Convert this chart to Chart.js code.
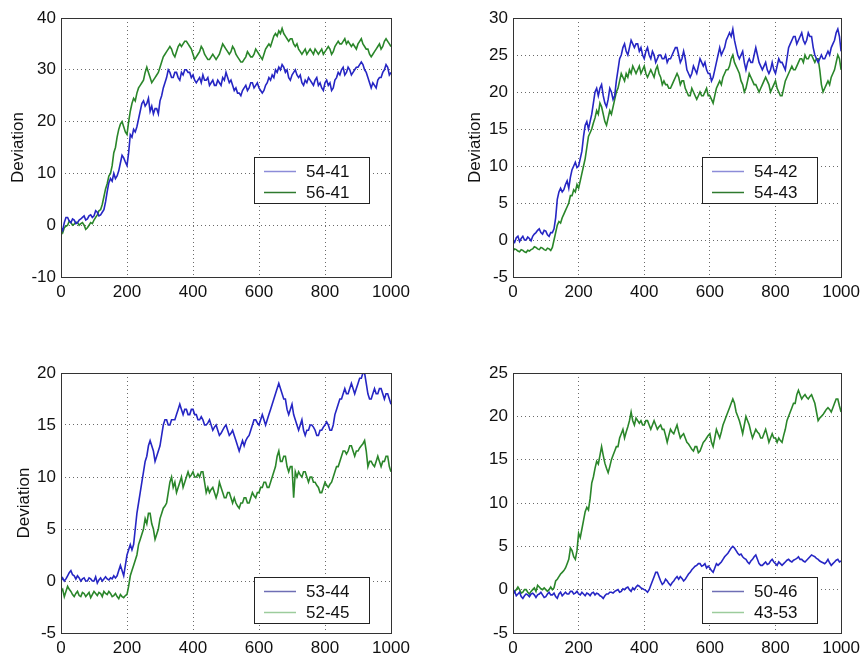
<!DOCTYPE html>
<html>
<head>
<meta charset="utf-8">
<script src="https://cdn.jsdelivr.net/npm/chart.js@4.4.1/dist/chart.umd.min.js"></script>
<style>
  html, body { margin: 0; padding: 0; background: #fff; }
  body { width: 865px; height: 657px; position: relative; overflow: hidden; }
  canvas { position: absolute; }
</style>
</head>
<body>
<canvas id="c1" width="432" height="320" style="left:0;top:0"></canvas>
<canvas id="c2" width="433" height="320" style="left:432px;top:0"></canvas>
<canvas id="c3" width="432" height="337" style="left:0;top:320px"></canvas>
<canvas id="c4" width="433" height="337" style="left:432px;top:320px"></canvas>
<script>
// sample positions (x axis)
const steps = [
  0,5,10,15,20,25,30,35,40,45,50,55,60,65,70,75,80,85,90,95,
  100,105,110,115,120,125,130,135,140,145,150,155,160,165,170,175,180,185,190,195,
  200,205,210,215,220,225,230,235,240,245,250,255,260,265,270,275,280,285,290,295,
  300,305,310,315,320,325,330,335,340,345,350,355,360,365,370,375,380,385,390,395,
  400,405,410,415,420,425,430,435,440,445,450,455,460,465,470,475,480,485,490,495,
  500,505,510,515,520,525,530,535,540,545,550,555,560,565,570,575,580,585,590,595,
  600,605,610,615,620,625,630,635,640,645,650,655,660,665,670,675,680,685,690,695,
  700,705,710,715,720,725,730,735,740,745,750,755,760,765,770,775,780,785,790,795,
  800,805,810,815,820,825,830,835,840,845,850,855,860,865,870,875,880,885,890,895,
  900,905,910,915,920,925,930,935,940,945,950,955,960,965,970,975,980,985,990,995,
  1000];
const xTicks = [0, 200, 400, 600, 800, 1000];

// Panel 1 (top left)
const s54_41 = [
  -0.5,-1,0.5,1.5,1.5,0.8,0.5,1.2,1,0.3,0.5,1,1.2,1.5,1.8,1,1.2,1.8,2,1.5,
  1.8,2.8,2.5,1.8,2,2.5,3,4.5,6.5,8.2,9,8.5,10,9,9.5,10.5,12,13.5,13,12.2,
  11.5,14,17.5,17,18.5,18,19,20.5,22,23.5,24,23,23.5,24.5,22,23,21.5,22.5,22.5,21.5,
  24,25,26.5,27.5,28.5,30,29.5,28.5,28.5,29.5,29.5,28.5,28,29.5,29,30,30,29.5,29.5,28.5,
  29,28,27.5,28,28.5,27.5,29,28,28,28.5,27,27.5,28,27,27,28,27.5,27,28.5,28,
  29.5,28.5,27.5,28,27,26,26.5,25.5,25.5,25,26,26.5,27,26,26.5,27.5,27.5,26.5,27,27.5,
  26.5,26,25.5,26,27,27.5,28.5,28,29,28.5,30,29.5,30.5,30,31,30.5,29.5,30,28.5,28,
  29,29.5,30,29,28.5,29,27.5,27,28,27.5,28.5,28,27.5,27,28,28.5,27,27.5,26.5,26,
  27.5,28,27,27.5,26,26.5,28,28.5,29.5,29,30,30.5,29,29.5,30.5,30,29,29.5,30,30.5,
  30.5,31,31.5,31,30,29.5,28.5,27.5,26.5,27.5,27,26.5,28,28.5,28.5,29.5,30,31,30.5,29,
  29.5];
const s56_41 = [
  -1,-1.5,-0.5,-0.2,0,0.8,0.5,0,0.2,0.6,0.5,0,0.3,0.5,0,-0.8,-0.5,0,0.5,0.3,
  1,1.5,2,2.8,3,4,5.5,7,8,9.5,10,11.5,14,15,17,18.5,19.5,20,19,18,
  17.5,20,22,23.5,24.5,24,25.5,26.5,27,27.5,28,29.5,30.5,29.5,28.5,27.5,28,28.5,29,29.5,
  30.5,31.5,32.5,33,33.5,34,34.5,34,33,32.5,33.5,34.5,35,34.5,35,35.5,35.5,35,34.5,34,
  33,32,32.5,33,33.5,34.5,34,33,32.5,32,32,32.5,33,32.5,32,32.5,33,34,35,34.5,
  34,33.5,33,33.5,34.5,34,33,32.5,32,31.5,31.5,32,32.5,33.5,33,32.5,32.5,33,34,33.5,
  33,32.5,32,33,34,34.5,35,34.5,35.5,36.5,37,36.5,37.5,37,38,37,36.5,36,35.5,36,
  36,35,34.5,35,34,33.5,33,33.5,34,33,33.5,34,33.5,33,34,33.5,33,33.5,34,33,
  33.5,34,34.5,34,33,33.5,34.5,35,35.5,35,35,35.5,36,35,35.5,35,34.5,35,34.5,34,
  35,35.5,36,35,34.5,34,34,33,32.5,33,33.5,34,34.5,35,34,34.5,35.5,36,35.5,35,
  34.5];

// Panel 2 (top right)
const s54_42 = [
  0,-0.3,0.3,0.5,-0.2,0.2,0.5,0,0,0.4,0.2,-0.1,0.5,0.8,1,1.3,1.5,1,0.8,1.3,
  1.2,0.7,0.5,1,1,1.5,3,5.5,6.5,7,6.5,6.8,7.5,8,7,8.5,9.5,10,10.5,9.8,
  10,11,12,14,15.5,16,15,16,17,18.5,20,20.5,19.5,20.5,21,19.5,18.5,18,19,20.5,
  20,19,19.5,21.5,23,24.5,25,26,26.5,25.5,25,26,27,26.5,26,26.5,26.5,25.5,26,25,
  24.5,25.5,26,25,24.5,25.5,25,24,24.5,25,25,24.5,24.5,25,24,24.5,24.5,25,25.5,26,
  26,25,24,24.5,25.5,24.5,23,22.5,22,22.5,23.5,23,22.5,23.5,24.5,24,23.5,24,23,22.5,
  22.5,21.5,22,23,24,25,26,25,25.5,26,27,27.5,28,27.5,28.5,27,26,25,24.5,25,
  25.5,24,23,24,24.5,24,24,25,26,25,24,23.5,23,23.5,24,23,22.5,23,24,23,
  22.5,23.5,24.5,24,24,23.5,23,24.5,26,26.5,27,27.5,27.5,26.5,27,27.5,28,27,26.5,27,
  28,27.5,27.5,26,25,24.5,24,24.5,25,24.5,24.5,25,25.5,25,26,26.5,27,28,28.5,27.5,
  25.5];
const s54_43 = [
  -1.5,-1.2,-1.3,-1.5,-1.6,-1.3,-1.4,-1.6,-1.7,-1.4,-1.5,-1.3,-1.2,-0.9,-1,-1.2,-1.3,-1,-1.1,-1.3,
  -1.4,-1.1,-1.2,-1.4,-1,0,1,2,2.5,2.3,3,3.5,4,4.5,5,6,6,6.8,6.5,7.5,
  7,8,9,10,11,12.5,14,14.5,15,15.8,16.5,17.5,17,18.5,18,17,16,15.5,16.5,17.5,
  17,18,19,20,20.5,21.5,22.5,22,21.5,22.5,22,23,22.5,23.5,23,22.5,23,23.5,22.5,23,
  23.5,22.5,22,22.5,23,22.5,22,23,23.5,22.5,22,21,21.5,21,21,20.5,20.5,21,21.5,22,
  22.5,22,21,21.5,21.5,20.5,20,19.5,19.5,20.5,20,19.5,19,19.5,20,19.5,19.5,20,20.5,19.5,
  19.5,19,18.5,19.5,20.5,21,21.5,21,22,22.5,23,23,23.5,24.5,25,24,23.5,23,22.5,21.5,
  21,20,20.5,21.5,22.5,22,21.5,21,21,20.5,20,20.5,21,21.5,22,21.5,21,20,20.5,21,
  21.5,20.5,20,19.5,19.5,20.5,21.5,22,22.5,23,23.5,23,23,23.5,24,24.5,24.5,24,25,24.5,
  24.5,25,25,24.5,24,24.5,24.5,23,21,20,20.5,21,21.5,21,22,22.5,23,24,25,24.5,
  23];

// Panel 3 (bottom left)
const s53_44 = [
  0,0.3,0,0.2,0.5,0.8,1,0.6,0.5,0.2,0.5,0.3,0,0.2,0.3,0,0,0.3,0.2,0,
  0,0.4,-0.2,0.1,0.3,0,0.2,0.4,0.2,0.1,0.3,0.2,0.5,0.3,0.5,1,1.5,1,0.5,1.5,
  2.5,3,3.5,3,3.5,5,6.5,7.5,8.5,9.5,10.5,11.5,12,13,13.5,13,12.5,11.5,12,12.5,
  13,14,15,15.5,15.5,15,15,15.5,15.5,15.5,16,16.5,17,16.5,16,16.5,16.5,16,16,16.5,
  16.5,16,16,15.5,15.5,15.8,15.5,15,15,15.2,15.5,15,14.5,14.8,15,14.5,14,14.2,14.5,14.8,
  15,14.5,14,14.2,14.5,14,13.5,13,12.5,13,13.5,13,13.5,13.8,14,14.5,15,15.5,15.5,15.2,
  15,15.5,16,15.5,15,15.5,16,16.5,17,17.5,18,18.5,19,18.5,18,17.5,17.5,16.5,16,16.5,
  17,16,15.5,15,14.5,15,15.5,14.5,14,14.5,14.5,15,15,14.8,14.5,14,14,14.5,14.5,14.8,
  15,15.3,15,14.5,14.5,15,16,16.5,17,17.5,17.5,18,18.5,18,18,18.5,19,18.5,18,18.5,
  19,19.5,19.5,20,20,19,18,17.5,17.5,18,18.5,18,18,18.5,18.5,18,17.5,18,18,17.5,
  17];
const s52_45 = [
  -1,-0.8,-1.5,-1,-0.5,-0.8,-1,-1.3,-1.5,-1.2,-1,-1.4,-1.5,-1.1,-1.2,-1.5,-1.3,-1.1,-1.6,-1.3,
  -1,-1.2,-1.4,-1.1,-1.2,-1.5,-1,-1.2,-1.3,-1,-1.2,-1.5,-1.4,-1.2,-1.5,-1.7,-1.3,-1.5,-1.6,-1.4,
  -1.3,-0.5,0.5,1,1.5,2,2.5,3.5,4,4.5,5,6,5.5,6.5,6.5,5.5,5,4,4.5,5,
  6,6.5,7,7.2,7.5,8.5,9.5,10,9,9.5,8.5,9,9.5,10,9,9.5,10,10.5,10,10.2,
  10.5,10,10,10.3,10,10.5,10.5,9.5,8.5,9,8.5,8.8,9,8.5,8,8.5,9.5,9,8.5,8,
  8,8.5,8.5,8,7.5,8,7.5,7.2,7,7.5,7.5,8,8,7.5,7.5,8,8.5,8.2,8,8.5,
  8.5,9,9,9.5,9.5,9,9,9.5,10,10.5,11,12,12.5,11.5,11.5,12,12,11,10.5,11,
  11,8,10.5,10,10.5,10.2,10,10.5,10.5,10,9.5,10,10,9.5,9.5,9.2,9,8.5,8.5,9,
  9.5,9.2,9,9.3,9.5,10,10.5,11,11,11.5,12,12.5,12.5,12.2,12.5,13,13,12.5,12,12.5,
  12.5,12.8,13,13.2,13.5,12.5,11,11.5,11.5,11.2,11,11.5,12,11.5,11,11.5,11.5,12,12,11,
  10.5];

// Panel 4 (bottom right)
const s50_46 = [
  -0.5,-0.2,-0.7,-0.5,-0.3,-0.8,-1,-0.7,-0.5,-0.6,-0.8,-0.5,-0.4,-0.6,-0.9,-0.6,-0.5,-0.3,-0.6,-0.9,
  -0.8,-0.5,-0.3,-0.6,-0.6,-0.4,-0.8,-1,-0.5,-0.3,-0.7,-0.5,-0.3,-0.5,-0.5,-0.2,-0.2,-0.5,-0.4,-0.2,
  -0.5,-0.6,-0.3,-0.5,-0.7,-0.4,-0.5,-0.7,-0.4,-0.3,-0.6,-0.4,-0.5,-0.7,-0.8,-1,-0.7,-0.5,-0.5,-0.3,
  -0.3,-0.4,-0.2,-0.1,0,-0.3,-0.2,0.1,0,0.2,0.3,0,-0.2,0.2,0,0.3,0.5,0.4,0.2,0.1,
  0,-0.1,-0.3,0,0.5,1,1.5,2,2,1.5,1,0.6,0.8,1.2,1,0.7,0.5,0.8,1,1.3,
  1.5,1.2,1.5,1.3,1,1.2,1.5,1.8,2,2.3,2.5,2.7,2.8,3,3,2.7,2.8,3,2.5,2.7,
  2.5,2.2,2,2.5,3,2.8,3,3.2,3.5,3.8,4,4.2,4.5,4.8,5,4.8,4.5,4.2,4,4.1,
  3.8,3.6,3.5,3.2,3,3.3,3.5,3.8,4,3.5,3,2.8,2.8,3,3.2,2.9,3,3.3,3.5,3.2,
  3,2.8,3.2,3,2.8,3,3.2,3.4,3.5,3.3,3.2,3.4,3.5,3.6,3.8,3.5,3.5,3.3,3.2,3.4,
  3.6,3.8,4,3.9,3.8,3.6,3.5,3.3,3.2,3.1,3,3.2,3.5,3.1,2.8,3,3.2,3.4,3.5,3.2,
  3.3];
const s43_53 = [
  -0.5,-0.2,0,0.3,0,-0.4,-0.3,0,0,-0.3,-0.5,-0.2,0,0.2,-0.2,0.5,0.3,0.1,0,0.2,
  0,-0.2,0,0.3,0,0.2,1,1.2,1.5,1.8,2,2.2,2.5,3,3.5,4.8,4.5,3.8,3.5,4.5,
  6.5,6,7,8,9,9.5,9.2,10.5,12.3,13,14,14.8,14.5,15.5,16.5,15.5,14.6,14,13.5,14.2,
  15,15.5,16,16.5,16.5,17.5,18,18.5,17.5,18.2,18.8,19.5,20.5,19.5,19,19.8,19.5,19.2,19.5,19,
  19,19.5,19.5,19,18.5,19,19.5,19,18.5,18.8,19,18.5,18.5,17.8,17,17.8,18.5,18.2,18,18.5,
  19,18.2,17.5,17.8,18,17.5,17,16.8,16.5,16.2,16,16.5,16.5,15.8,16,16.5,17,17.2,17.5,17.8,
  18,17,16.5,17.5,18.5,18,17.5,18.2,19,19.5,20,20.5,21,21.5,22,21.5,20.5,20,19.5,18.8,
  18,19,20,19.5,19,18.2,17.5,18,18.5,18.2,18,17.5,17.5,18,18.5,17.8,17,17.5,18,17.5,
  17.5,17,17.5,17.2,17,17.8,18.5,19.5,20,20.5,21,21.5,21.5,22.5,23,22.5,22,22.3,22.5,22.2,
  22,22.3,22.5,22,21.5,20.5,19.5,19.8,20,20.2,20.5,20.8,21,20.8,20.5,21,21.5,22,22,21.2,
  20.5];

const BLUE = '#2626c4';
const GREEN = '#2a862a';
const FONT = "'Liberation Sans', Arial, Helvetica, sans-serif";

Chart.defaults.font.family = FONT;
Chart.defaults.font.size = 17;
Chart.defaults.color = '#111';

const boxLegend = {
  id: 'boxLegend',
  afterDraw(chart, args, opts) {
    const ctx = chart.ctx, a = chart.chartArea;
    const w = 115, h = 46;
    const x = Math.round(a.right - opts.right - w), y = Math.round(a.bottom - opts.bottom - h);
    ctx.save();
    // plot frame
    ctx.strokeStyle = '#333';
    ctx.lineWidth = 1;
    ctx.strokeRect(Math.round(a.left) + 0.5, Math.round(a.top) + 0.5, Math.round(a.right - a.left), Math.round(a.bottom - a.top));
    // legend box
    ctx.fillStyle = '#fff';
    ctx.fillRect(x, y, w, h);
    ctx.strokeStyle = '#222';
    ctx.strokeRect(x + 0.5, y + 0.5, w, h);
    ctx.font = '17px ' + FONT;
    ctx.textBaseline = 'middle';
    ctx.textAlign = 'left';
    chart.data.datasets.forEach((ds, i) => {
      const ry = y + 14 + i * 21;
      ctx.strokeStyle = opts.colors[i];
      ctx.lineWidth = 1.5;
      ctx.beginPath();
      ctx.moveTo(x + 10, ry + 0.5);
      ctx.lineTo(x + 42, ry + 0.5);
      ctx.stroke();
      ctx.fillStyle = '#111';
      ctx.fillText(ds.label, x + 52, ry + 1);
    });
    ctx.restore();
  }
};

function makeChart(id, p) {
  const datasets = p.series.map((s) => ({
    label: s.label,
    data: steps.map((x, k) => ({ x: x, y: s.values[k] })),
    borderColor: s.color,
    borderWidth: 1.6,
    pointRadius: 0,
    tension: 0,
    fill: false
  }));
  return new Chart(document.getElementById(id), {
    type: 'line',
    data: { datasets },
    options: {
      responsive: false,
      animation: false,
      devicePixelRatio: 1,
      layout: { padding: { left: p.padLeft, right: p.padRight, top: p.padTop, bottom: 0 } },
      plugins: {
        legend: { display: false },
        tooltip: { enabled: false },
        boxLegend: { right: p.legRight, bottom: p.legBottom, colors: p.legColors }
      },
      scales: {
        x: {
          type: 'linear',
          min: 0, max: 1000,
          afterBuildTicks: (scale) => { scale.ticks = xTicks.map(v => ({ value: v })); },
          afterFit: (scale) => { scale.height = p.xH; },
          ticks: { padding: 5, maxRotation: 0, callback: (v) => String(v) },
          grid: { color: '#6a6a6a', lineWidth: 1, drawTicks: false },
          border: { display: false, dash: [1, 3] }
        },
        y: {
          min: p.yMin, max: p.yMax,
          afterBuildTicks: (scale) => { scale.ticks = p.yTicks.map(v => ({ value: v })); },
          afterFit: (scale) => { scale.width = p.yW; },
          ticks: { padding: 5, callback: (v) => String(v) },
          grid: { color: '#6a6a6a', lineWidth: 1, drawTicks: false },
          border: { display: false, dash: [1, 3] },
          title: {
            display: p.yTitle !== '',
            text: p.yTitle,
            padding: { top: 8, bottom: 0 },
            font: { size: 17 }
          }
        }
      }
    },
    plugins: [boxLegend]
  });
}

makeChart('c1', {
  series: [
    { label: '54-41', values: s54_41, color: BLUE },
    { label: '56-41', values: s56_41, color: GREEN }
  ],
  yMin: -10, yMax: 40, yTicks: [-10, 0, 10, 20, 30, 40],
  yTitle: 'Deviation',
  padLeft: 0, yW: 61, padRight: 41, padTop: 18, xH: 43,
  legRight: 22, legBottom: 74, legColors: ['#8c8cd8', '#2e7a2e']
});
makeChart('c2', {
  series: [
    { label: '54-42', values: s54_42, color: BLUE },
    { label: '54-43', values: s54_43, color: GREEN }
  ],
  yMin: -5, yMax: 30, yTicks: [-5, 0, 5, 10, 15, 20, 25, 30],
  yTitle: 'Deviation',
  padLeft: 25, yW: 56, padRight: 22, padTop: 18, xH: 43,
  legRight: 24, legBottom: 74, legColors: ['#8c8cd8', '#2e7a2e']
});
makeChart('c3', {
  series: [
    { label: '53-44', values: s53_44, color: BLUE },
    { label: '52-45', values: s52_45, color: GREEN }
  ],
  yMin: -5, yMax: 20, yTicks: [-5, 0, 5, 10, 15, 20],
  yTitle: 'Deviation',
  padLeft: 6, yW: 55, padRight: 41, padTop: 53, xH: 24,
  legRight: 22, legBottom: 10, legColors: ['#6e6eb4', '#9ccc9c']
});
makeChart('c4', {
  series: [
    { label: '50-46', values: s50_46, color: BLUE },
    { label: '43-53', values: s43_53, color: GREEN }
  ],
  yMin: -5, yMax: 25, yTicks: [-5, 0, 5, 10, 15, 20, 25],
  yTitle: '',
  padLeft: 25, yW: 56, padRight: 22, padTop: 53, xH: 24,
  legRight: 24, legBottom: 10, legColors: ['#6e6eb4', '#9ccc9c']
});
</script>
</body>
</html>
